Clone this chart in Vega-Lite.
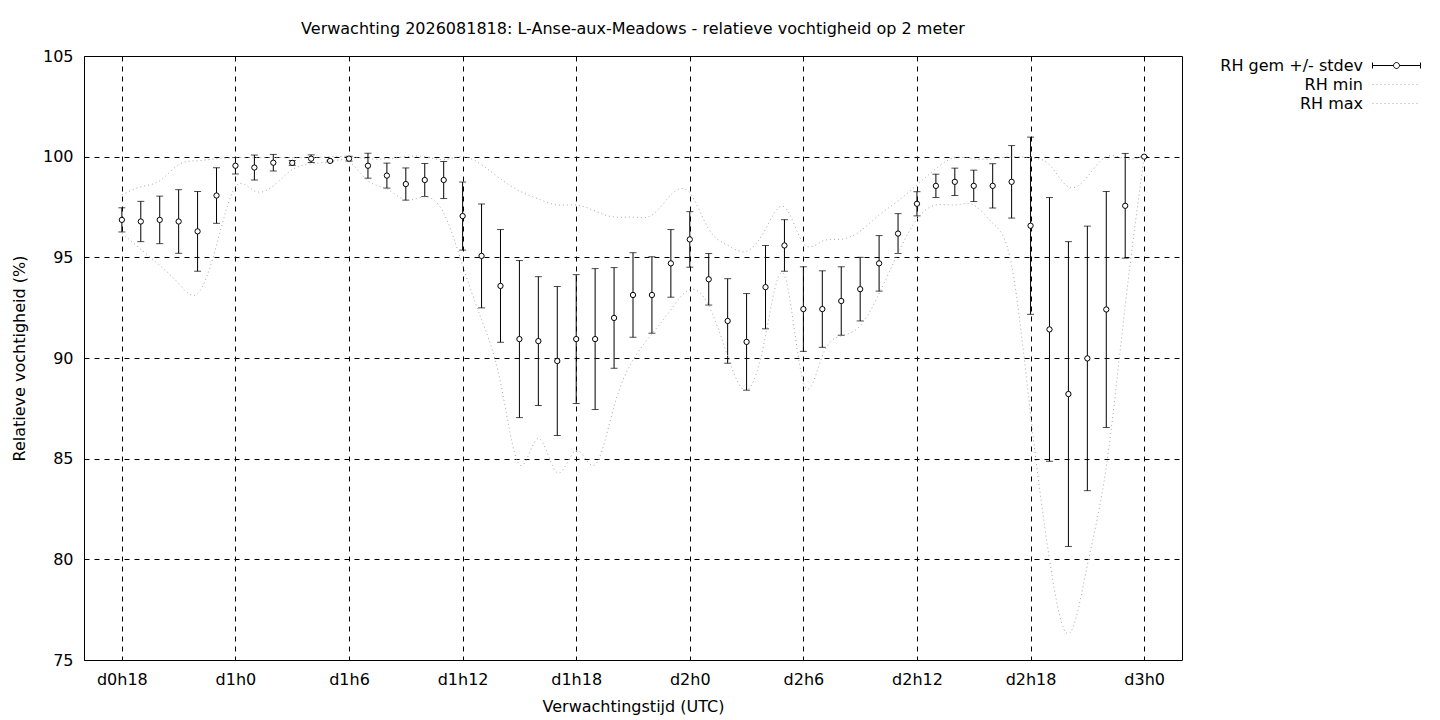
{
  "$schema": "https://vega.github.io/schema/vega-lite/v6.json",
  "width": 1098,
  "height": 604,
  "autosize": {"type": "none"},
  "padding": {"left": 84, "top": 56, "right": 258, "bottom": 60},
  "background": "white",
  "title": {
    "text": "Verwachting 2026081818: L-Anse-aux-Meadows - relatieve vochtigheid op 2 meter",
    "anchor": "middle",
    "fontSize": 16,
    "fontWeight": "normal",
    "color": "black",
    "offset": 11
  },
  "data": {
    "values": [
      {"hour": 18, "mean": 96.86, "sd": 0.6, "RH min": 96.2, "RH max": 98.1},
      {"hour": 19, "mean": 96.78, "sd": 1.0, "RH min": 95.4, "RH max": 98.5},
      {"hour": 20, "mean": 96.86, "sd": 1.18, "RH min": 94.6, "RH max": 98.8},
      {"hour": 21, "mean": 96.78, "sd": 1.58, "RH min": 93.7, "RH max": 99.6},
      {"hour": 22, "mean": 96.29, "sd": 1.98, "RH min": 93.2, "RH max": 99.8},
      {"hour": 23, "mean": 98.07, "sd": 1.38, "RH min": 95.6, "RH max": 99.9},
      {"hour": 24, "mean": 99.55, "sd": 0.41, "RH min": 98.5, "RH max": 99.95},
      {"hour": 25, "mean": 99.46, "sd": 0.62, "RH min": 98.3, "RH max": 99.95},
      {"hour": 26, "mean": 99.7, "sd": 0.41, "RH min": 98.55, "RH max": 99.95},
      {"hour": 27, "mean": 99.69, "sd": 0.12, "RH min": 99.35, "RH max": 99.95},
      {"hour": 28, "mean": 99.9, "sd": 0.19, "RH min": 99.65, "RH max": 99.95},
      {"hour": 29, "mean": 99.79, "sd": 0.03, "RH min": 99.75, "RH max": 100},
      {"hour": 30, "mean": 99.9, "sd": 0.12, "RH min": 99.75, "RH max": 100},
      {"hour": 31, "mean": 99.55, "sd": 0.62, "RH min": 98.8, "RH max": 99.9},
      {"hour": 32, "mean": 99.06, "sd": 0.62, "RH min": 98.4, "RH max": 99.9},
      {"hour": 33, "mean": 98.64, "sd": 0.8, "RH min": 97.85, "RH max": 100},
      {"hour": 34, "mean": 98.84, "sd": 0.82, "RH min": 98.0, "RH max": 100},
      {"hour": 35, "mean": 98.84, "sd": 0.92, "RH min": 97.2, "RH max": 99.85},
      {"hour": 36, "mean": 97.05, "sd": 1.69, "RH min": 94.6, "RH max": 100},
      {"hour": 37, "mean": 95.07, "sd": 2.58, "RH min": 91.9, "RH max": 99.6},
      {"hour": 38, "mean": 93.58, "sd": 2.8, "RH min": 88.8, "RH max": 98.9},
      {"hour": 39, "mean": 90.94, "sd": 3.9, "RH min": 84.7, "RH max": 98.3},
      {"hour": 40, "mean": 90.84, "sd": 3.2, "RH min": 86.0, "RH max": 97.9},
      {"hour": 41, "mean": 89.85, "sd": 3.7, "RH min": 84.3, "RH max": 97.6},
      {"hour": 42, "mean": 90.94, "sd": 3.2, "RH min": 85.4, "RH max": 97.6},
      {"hour": 43, "mean": 90.94, "sd": 3.5, "RH min": 84.7, "RH max": 97.3},
      {"hour": 44, "mean": 91.99, "sd": 2.5, "RH min": 87.6, "RH max": 97.0},
      {"hour": 45, "mean": 93.13, "sd": 2.1, "RH min": 89.9, "RH max": 97.0},
      {"hour": 46, "mean": 93.13, "sd": 1.9, "RH min": 91.2, "RH max": 97.1},
      {"hour": 47, "mean": 94.7, "sd": 1.68, "RH min": 92.4, "RH max": 98.1},
      {"hour": 48, "mean": 95.89, "sd": 1.38, "RH min": 93.4, "RH max": 98.2},
      {"hour": 49, "mean": 93.91, "sd": 1.28, "RH min": 92.6, "RH max": 96.4},
      {"hour": 50, "mean": 91.84, "sd": 2.1, "RH min": 90.1, "RH max": 95.6},
      {"hour": 51, "mean": 90.8, "sd": 2.4, "RH min": 88.4, "RH max": 95.3},
      {"hour": 52, "mean": 93.52, "sd": 2.07, "RH min": 91.1, "RH max": 96.4},
      {"hour": 53, "mean": 95.59, "sd": 1.28, "RH min": 94.1, "RH max": 97.5},
      {"hour": 54, "mean": 92.43, "sd": 2.1, "RH min": 88.8, "RH max": 95.7},
      {"hour": 55, "mean": 92.43, "sd": 1.9, "RH min": 90.1, "RH max": 95.8},
      {"hour": 56, "mean": 92.83, "sd": 1.7, "RH min": 91.1, "RH max": 95.9},
      {"hour": 57, "mean": 93.42, "sd": 1.58, "RH min": 91.6, "RH max": 96.3},
      {"hour": 58, "mean": 94.7, "sd": 1.38, "RH min": 93.2, "RH max": 97.1},
      {"hour": 59, "mean": 96.18, "sd": 0.99, "RH min": 95.2, "RH max": 97.8},
      {"hour": 60, "mean": 97.66, "sd": 0.6, "RH min": 96.9, "RH max": 98.6},
      {"hour": 61, "mean": 98.55, "sd": 0.58, "RH min": 97.6, "RH max": 99.4},
      {"hour": 62, "mean": 98.75, "sd": 0.68, "RH min": 97.6, "RH max": 99.95},
      {"hour": 63, "mean": 98.55, "sd": 0.78, "RH min": 97.6, "RH max": 99.9},
      {"hour": 64, "mean": 98.55, "sd": 1.1, "RH min": 96.7, "RH max": 99.9},
      {"hour": 65, "mean": 98.75, "sd": 1.8, "RH min": 94.6, "RH max": 100},
      {"hour": 66, "mean": 96.57, "sd": 4.4, "RH min": 87.2, "RH max": 99.95},
      {"hour": 67, "mean": 91.42, "sd": 6.55, "RH min": 80.0, "RH max": 99.6},
      {"hour": 68, "mean": 88.21, "sd": 7.57, "RH min": 76.3, "RH max": 98.5},
      {"hour": 69, "mean": 89.98, "sd": 6.57, "RH min": 79.7, "RH max": 99.0},
      {"hour": 70, "mean": 92.41, "sd": 5.86, "RH min": 84.6, "RH max": 100},
      {"hour": 71, "mean": 97.56, "sd": 2.6, "RH min": 92.6, "RH max": 99.9},
      {"hour": 72, "mean": 100.0, "sd": 0, "RH min": 100, "RH max": 100}
    ]
  },
  "encoding": {
    "x": {
      "field": "hour",
      "type": "quantitative",
      "scale": {"domain": [16, 74], "nice": false, "zero": false},
      "axis": {
        "title": "Verwachtingstijd (UTC)",
        "values": [18, 24, 30, 36, 42, 48, 54, 60, 66, 72],
        "labelExpr": "'d' + floor(datum.value / 24) + 'h' + (datum.value % 24)",
        "labelPadding": 11,
        "titlePadding": 11
      }
    }
  },
  "layer": [
    {
      "mark": {
        "type": "errorbar",
        "ticks": {"size": 7, "thickness": 1, "color": "black"},
        "rule": {"strokeWidth": 1, "color": "black"}
      },
      "encoding": {
        "y": {
          "field": "mean",
          "type": "quantitative",
          "scale": {"domain": [75, 105], "nice": false, "zero": false},
          "axis": {
            "title": "Relatieve vochtigheid (%)",
            "values": [75, 80, 85, 90, 95, 100, 105],
            "labelPadding": 11,
            "titlePadding": 15
          }
        },
        "yError": {"field": "sd"}
      }
    },
    {
      "mark": {
        "type": "point",
        "shape": "circle",
        "size": 28,
        "filled": true,
        "fill": "white",
        "stroke": "black",
        "strokeWidth": 1,
        "opacity": 1
      },
      "encoding": {
        "y": {"field": "mean", "type": "quantitative"}
      }
    },
    {
      "transform": [
        {"fold": ["RH min", "RH max"], "as": ["series", "value"]}
      ],
      "mark": {
        "type": "line",
        "interpolate": "natural",
        "strokeWidth": 1,
        "strokeDash": [1, 3]
      },
      "encoding": {
        "y": {"field": "value", "type": "quantitative"},
        "detail": {"field": "series"},
        "color": {
          "field": "series",
          "type": "nominal",
          "scale": {
            "domain": ["RH gem +/- stdev", "RH min", "RH max"],
            "range": ["black", "#a8a8a8", "#a8a8a8"]
          },
          "legend": {
            "title": null,
            "orient": "none",
            "legendX": 1304,
            "legendY": 1,
            "padding": 0,
            "rowPadding": 2,
            "symbolSize": 256,
            "symbolStrokeWidth": 1,
            "labelAlign": "right",
            "labelOffset": -42,
            "labelFontSize": 16,
            "labelColor": "black",
            "labelLimit": 300,
            "encode": {
              "symbols": {
                "update": {
                  "shape": {"signal": "datum.value === 'RH gem +/- stdev' ? 'M-3,0H-0.375M0.375,0H3M-3,-0.375V0.375M3,-0.375V0.375M0.375,0A0.375,0.375,0,1,1,-0.375,0A0.375,0.375,0,1,1,0.375,0' : 'M-3,0H3'"},
                  "strokeDash": {"signal": "datum.value === 'RH gem +/- stdev' ? [] : [1, 3]"},
                  "fill": {"value": "white"},
                  "fillOpacity": {"value": 1},
                  "opacity": {"value": 1}
                }
              }
            }
          }
        }
      }
    }
  ],
  "config": {
    "font": "DejaVu Sans",
    "view": {"stroke": "black", "strokeWidth": 1},
    "axis": {
      "grid": true,
      "gridColor": "black",
      "gridDash": [5, 5],
      "gridOpacity": 1,
      "gridWidth": 1,
      "ticks": false,
      "domain": false,
      "labelFontSize": 16,
      "labelColor": "black",
      "titleFontSize": 16,
      "titleFontWeight": "normal",
      "titleColor": "black",
      "labelFlush": false,
      "labelOverlap": false
    }
  }
}
